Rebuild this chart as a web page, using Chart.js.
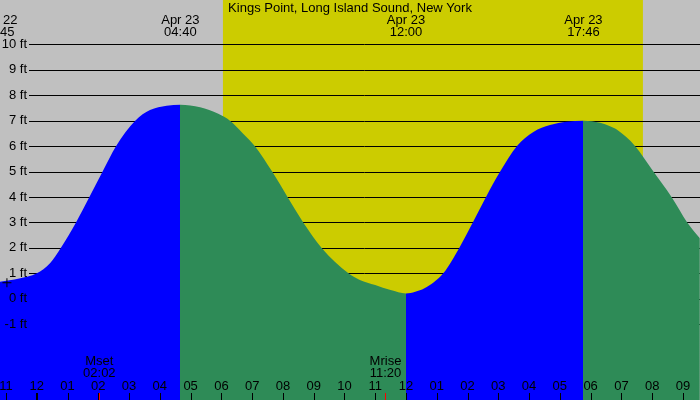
<!DOCTYPE html>
<html><head><meta charset="utf-8">
<script src="https://cdn.jsdelivr.net/npm/chart.js@4"></script>
<style>html,body{margin:0;padding:0;background:#c0c0c0;} canvas{display:block}</style>
</head><body>
<canvas id="c" width="700" height="400"></canvas>
<script>
// Hours relative to Apr 23 00:00
const title = 'Kings Point, Long Island Sound, New York';
const rise1Times  = [-1.25, -0.57, 0.0, 0.43, 0.78, 1.275, 1.71, 2.14, 2.575, 3.20, 3.68, 4.22, 4.667];
const rise1Levels = [0.66, 0.8, 1.0, 1.4, 2, 3, 4, 5, 6, 7, 7.42, 7.59, 7.63];
const fall1Times  = [5.31, 5.9, 6.28, 6.7, 7.09, 7.65, 8.15, 8.66, 9.26, 10.13, 10.5, 11.0, 11.5, 12.0];
const fall1Levels = [7.53, 7.27, 7, 6.5, 6, 5, 4, 3, 2, 1, 0.74, 0.54, 0.34, 0.21];
const rise2Times  = [12.3, 12.6, 13.21, 13.73, 14.17, 14.60, 15.06, 15.6, 16.14, 16.68, 17.22, 17.767];
const rise2Levels = [0.28, 0.41, 1, 2, 3, 4, 5, 6, 6.56, 6.83, 6.96, 7.0];
const fall2Times  = [18.31, 18.63, 18.85, 19.45, 20.04, 20.63, 21.14, 21.55];
const fall2Levels = [6.92, 6.78, 6.65, 6, 5, 4, 3, 2.38];
const nowMark = [-0.97, 0.63];
const sunRise = 6.05, sunSet = 19.70;
const extremeTimes = [-1.25, 4.667, 12.0, 17.767];
const extremeDates = ['Apr 22', 'Apr 23', 'Apr 23', 'Apr 23'];
const extremeClock = ['22:45', '04:40', '12:00', '17:46'];
const moonTimes = [2.033, 11.333];
const moonNames = ['Mset', 'Mrise'];
const moonClock = ['02:02', '11:20'];
const hourTicks = [-1,0,1,2,3,4,5,6,7,8,9,10,11,12,13,14,15,16,17,18,19,20,21];
const hourLabels = ['11','12','01','02','03','04','05','06','07','08','09','10','11','12','01','02','03','04','05','06','07','08','09'];
const levelTicks = [10,9,8,7,6,5,4,3,2,1,0,-1];
const levelLabels = ['10 ft','9 ft','8 ft','7 ft','6 ft','5 ft','4 ft','3 ft','2 ft','1 ft','0 ft','-1 ft'];

const RISE = '#0000ff', FALL = '#2e8b57';
const pts = (t, v) => t.map((x, i) => ({x, y: v[i]}));
const tidePoints = [].concat(
  pts(rise1Times, rise1Levels), pts(fall1Times, fall1Levels),
  pts(rise2Times, rise2Levels), pts(fall2Times, fall2Levels));
const FONT = '13px "Liberation Sans", Arial, sans-serif';

// fill colour changes at each high / low tide (rising = blue, falling = green)
function tideFill(context) {
  const chart = context.chart;
  const x = chart.scales && chart.scales.x;
  if (!chart.chartArea || !x) return RISE;
  const W = chart.width;
  const g = chart.ctx.createLinearGradient(0, 0, W, 0);
  let color = RISE;
  g.addColorStop(0, color);
  extremeTimes.slice(1).forEach(t => {
    const off = Math.min(1, Math.max(0, x.getPixelForValue(t) / W));
    g.addColorStop(off, color);
    color = color === RISE ? FALL : RISE;
    g.addColorStop(off, color);
  });
  g.addColorStop(1, color);
  return g;
}

const bgPlugin = {
  id: 'bg',
  beforeDraw(chart) {
    const {ctx, scales: {x}} = chart;
    ctx.save();
    ctx.fillStyle = '#c0c0c0';
    ctx.fillRect(0, 0, chart.width, chart.height);
    ctx.fillStyle = '#cccc00';
    const x0 = x.getPixelForValue(sunRise), x1 = x.getPixelForValue(sunSet);
    ctx.fillRect(x0, 0, x1 - x0, chart.height);
    ctx.restore();
  },
  beforeDatasetsDraw(chart) {
    const {ctx, scales: {y}} = chart;
    ctx.save();
    ctx.strokeStyle = '#000';
    ctx.lineWidth = 1;
    levelTicks.forEach(v => {
      const py = Math.round(y.getPixelForValue(v)) + 0.5;
      ctx.beginPath(); ctx.moveTo(29, py); ctx.lineTo(chart.width, py); ctx.stroke();
    });
    ctx.restore();
  },
  afterDatasetsDraw(chart) {
    const {ctx, scales: {x, y}} = chart;
    ctx.save();
    ctx.font = FONT;
    ctx.fillStyle = '#000';
    ctx.textBaseline = 'middle';
    ctx.textAlign = 'right';
    levelTicks.forEach((v, i) => ctx.fillText(levelLabels[i], 27, y.getPixelForValue(v)));
    ctx.textAlign = 'center';
    ctx.fillText(title, chart.width / 2, 8);
    extremeTimes.forEach((t, i) => {
      const px = x.getPixelForValue(t);
      ctx.fillText(extremeDates[i], px, 20);
      ctx.fillText(extremeClock[i], px, 32);
    });
    moonTimes.forEach((t, i) => {
      const px = x.getPixelForValue(t);
      ctx.fillText(moonNames[i], px, 361);
      ctx.fillText(moonClock[i], px, 373);
    });
    hourTicks.forEach((h, i) => {
      const px = x.getPixelForValue(h);
      ctx.fillText(hourLabels[i], px, 386);
      const w = h === 0 ? 2 : 1;
      ctx.fillRect(Math.round(px) - (w === 2 ? 1 : 0), 393, w, 7);
    });
    ctx.fillStyle = '#ff0000';
    moonTimes.forEach(t => {
      const px = x.getPixelForValue(t);
      ctx.fillRect(Math.round(px), 393, 1, 7);
    });
    ctx.restore();
  }
};

new Chart(document.getElementById('c'), {
  type: 'line',
  data: {
    datasets: [
      {type: 'scatter', data: [{x: nowMark[0], y: nowMark[1]}], pointStyle: 'cross',
       pointRadius: 4.5, borderColor: '#000', backgroundColor: '#000', borderWidth: 1, order: 0, clip: false},
      {type: 'line', data: tidePoints, fill: 'start', backgroundColor: tideFill,
       borderWidth: 0, borderColor: 'rgba(0,0,0,0)', pointRadius: 0,
       cubicInterpolationMode: 'monotone', order: 2}
    ]
  },
  options: {
    responsive: false, devicePixelRatio: 1, animation: false,
    layout: {padding: 0, autoPadding: false},
    plugins: {legend: {display: false}, tooltip: {enabled: false}},
    scales: {
      x: {type: 'linear', min: -1.195, max: 21.555, display: false},
      y: {type: 'linear', min: -3.98, max: 11.745, display: false}
    }
  },
  plugins: [bgPlugin]
});
</script></body></html>
